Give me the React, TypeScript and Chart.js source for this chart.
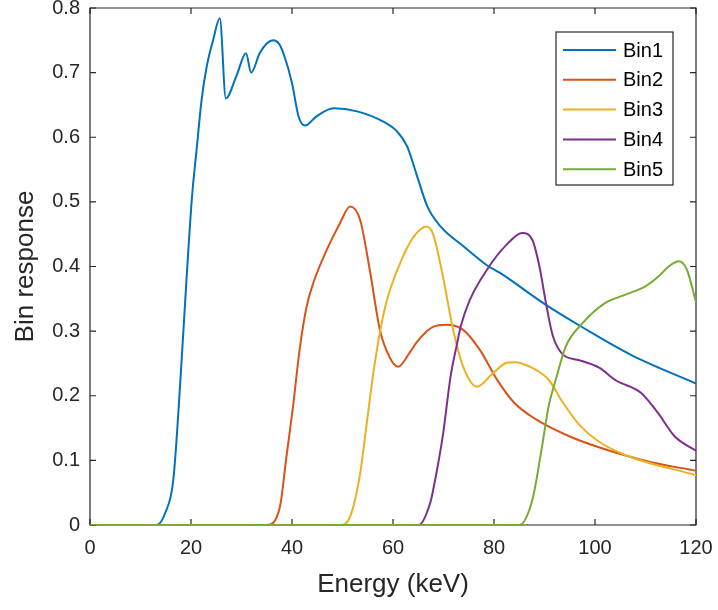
import React, { useEffect, useRef } from 'react';
import { Chart, registerables } from 'chart.js';

Chart.register(...registerables);

const seriesNames = ['Bin1', 'Bin2', 'Bin3', 'Bin4', 'Bin5'];
const seriesColors = ['#0072BD', '#D95319', '#EDB120', '#7E2F8E', '#77AC30'];
const xTickValues = [0, 20, 40, 60, 80, 100, 120];
const yTickValues = [0, 0.1, 0.2, 0.3, 0.4, 0.5, 0.6, 0.7, 0.8];

const energy1 = [0, 13.2, 14.9, 16.5, 17.9, 19.1, 20.2, 21.1, 22.1, 23.1, 24.4, 25.7, 26.9, 29.0, 30.9, 31.9, 33.6, 35.0, 36.3, 37.4, 38.3, 40.0, 41.3, 42.6, 44.8, 48.2, 52.9, 58.1, 60.8, 62.8, 64.8, 66.8, 69.4, 74.0, 78.6, 81.2, 90.2, 97.5, 107.2, 120];
const bin1 = [0, 0, 0.019, 0.07, 0.224, 0.379, 0.508, 0.58, 0.658, 0.709, 0.751, 0.784, 0.66, 0.695, 0.73, 0.7, 0.73, 0.745, 0.75, 0.745, 0.73, 0.684, 0.632, 0.618, 0.632, 0.645, 0.64, 0.624, 0.609, 0.586, 0.539, 0.493, 0.462, 0.431, 0.402, 0.39, 0.341, 0.306, 0.263, 0.219];

const energy2 = [0, 35.0, 37.6, 38.9, 40.2, 41.5, 42.9, 44.2, 46.9, 49.5, 51.5, 53.5, 55.5, 57.4, 59.3, 61.0, 63.4, 64.9, 68.0, 70.6, 73.9, 77.2, 80.6, 83.9, 88.4, 95.0, 100.9, 110.7, 120];
const bin2 = [0, 0, 0.028, 0.106, 0.183, 0.271, 0.338, 0.374, 0.426, 0.467, 0.493, 0.472, 0.39, 0.302, 0.26, 0.245, 0.268, 0.285, 0.307, 0.31, 0.302, 0.271, 0.225, 0.19, 0.163, 0.137, 0.12, 0.098, 0.084];

const energy3 = [0, 49.5, 51.5, 53.5, 54.8, 56.1, 57.5, 58.8, 61.4, 64.0, 66.6, 67.9, 69.9, 71.9, 73.9, 76.6, 79.8, 82.5, 84.0, 87.6, 90.9, 93.6, 96.9, 100.6, 106.1, 120];
const bin3 = [0, 0, 0.013, 0.08, 0.157, 0.235, 0.302, 0.348, 0.405, 0.445, 0.462, 0.451, 0.384, 0.302, 0.245, 0.214, 0.235, 0.251, 0.252, 0.243, 0.224, 0.19, 0.155, 0.13, 0.108, 0.077];

const energy4 = [0, 65.1, 67.4, 68.1, 69.9, 71.4, 72.7, 73.4, 75.2, 78.6, 82.4, 85.6, 87.6, 89.0, 90.3, 91.6, 93.6, 96.9, 100.9, 104.1, 109.2, 112.5, 115.8, 120];
const bin4 = [0, 0, 0.035, 0.06, 0.14, 0.23, 0.281, 0.307, 0.348, 0.395, 0.433, 0.452, 0.441, 0.4, 0.343, 0.294, 0.264, 0.255, 0.243, 0.224, 0.204, 0.173, 0.137, 0.115];

const energy5 = [0, 85.0, 87.6, 89.5, 90.8, 92.2, 94.2, 97.5, 101.9, 105.9, 109.9, 112.5, 114.6, 116.6, 118.2, 120];
const bin5 = [0, 0, 0.039, 0.121, 0.183, 0.224, 0.276, 0.312, 0.343, 0.356, 0.369, 0.384, 0.4, 0.408, 0.395, 0.345];

const energies = [energy1, energy2, energy3, energy4, energy5];
const bins = [bin1, bin2, bin3, bin4, bin5];

const FONT = '"Liberation Sans", Arial, Helvetica, sans-serif';
const AXIS_COLOR = '#262626';

const boxPlugin = {
  id: 'matlabBox',
  beforeDatasetsDraw(chart: any) {
    const { ctx, chartArea, scales } = chart;
    const { left, right, top, bottom } = chartArea;
    const xs = scales.x;
    const ys = scales.y;
    const tick = 6;
    ctx.save();
    ctx.strokeStyle = AXIS_COLOR;
    ctx.lineWidth = 1.2;
    ctx.beginPath();
    ctx.rect(left, top, right - left, bottom - top);
    ctx.stroke();
    ctx.beginPath();
    xTickValues.forEach((v) => {
      const px = xs.getPixelForValue(v);
      ctx.moveTo(px, bottom);
      ctx.lineTo(px, bottom - tick);
      ctx.moveTo(px, top);
      ctx.lineTo(px, top + tick);
    });
    yTickValues.forEach((v) => {
      const py = ys.getPixelForValue(v);
      ctx.moveTo(left, py);
      ctx.lineTo(left + tick, py);
      ctx.moveTo(right, py);
      ctx.lineTo(right - tick, py);
    });
    ctx.stroke();
    ctx.restore();
  },
};

const legendPlugin = {
  id: 'insideLegend',
  afterDatasetsDraw(chart: any) {
    const { ctx, chartArea } = chart;
    const boxRight = chartArea.right - 23;
    const boxTop = chartArea.top + 24;
    const boxW = 117;
    const rowH = 29.8;
    const boxH = 153;
    const boxLeft = boxRight - boxW;
    ctx.save();
    ctx.fillStyle = '#ffffff';
    ctx.fillRect(boxLeft, boxTop, boxW, boxH);
    ctx.strokeStyle = '#262626';
    ctx.lineWidth = 1.2;
    ctx.strokeRect(boxLeft, boxTop, boxW, boxH);
    ctx.font = `20px ${FONT}`;
    ctx.textBaseline = 'middle';
    ctx.textAlign = 'left';
    chart.data.datasets.forEach((ds: any, i: number) => {
      const cy = boxTop + 18 + i * rowH;
      ctx.strokeStyle = ds.borderColor;
      ctx.lineWidth = 2;
      ctx.beginPath();
      ctx.moveTo(boxLeft + 7, cy);
      ctx.lineTo(boxLeft + 60, cy);
      ctx.stroke();
      ctx.fillStyle = '#000000';
      ctx.fillText(ds.label, boxLeft + 67, cy + 1);
    });
    ctx.restore();
  },
};

function zeroPadding(scale: any) {
  scale.paddingTop = 0;
  scale.paddingBottom = 0;
  scale.paddingLeft = 0;
  scale.paddingRight = 0;
}

export default function App() {
  const canvasRef = useRef<HTMLCanvasElement | null>(null);

  useEffect(() => {
    document.body.style.margin = '0';
    const canvas = canvasRef.current;
    if (!canvas) return;
    const datasets = seriesNames.map((name, i) => ({
      label: name,
      data: energies[i].map((e, j) => ({ x: e, y: bins[i][j] })),
      borderColor: seriesColors[i],
      backgroundColor: seriesColors[i],
      borderWidth: 2,
      pointRadius: 0,
      fill: false,
      cubicInterpolationMode: 'monotone' as const,
      order: seriesNames.length - i,
    }));
    const chart = new Chart(canvas, {
      type: 'line',
      data: { datasets },
      options: {
        animation: false,
        responsive: false,
        maintainAspectRatio: false,
        layout: { padding: { top: 8, right: 22, left: 0, bottom: 0 } },
        plugins: {
          legend: { display: false },
          tooltip: { enabled: false },
        },
        scales: {
          x: {
            type: 'linear',
            min: 0,
            max: 120,
            afterBuildTicks: (scale: any) => {
              scale.ticks = xTickValues.map((v) => ({ value: v }));
            },
            afterFit: (scale: any) => {
              scale.height = 85;
              zeroPadding(scale);
            },
            grid: { display: false, drawTicks: false },
            border: { display: false },
            ticks: {
              color: AXIS_COLOR,
              font: { family: FONT, size: 20 },
              padding: 11,
              maxRotation: 0,
            },
            title: {
              display: true,
              text: 'Energy (keV)',
              color: AXIS_COLOR,
              font: { family: FONT, size: 26 },
              padding: { top: 0, bottom: 10 },
            },
          },
          y: {
            type: 'linear',
            min: 0,
            max: 0.8,
            afterBuildTicks: (scale: any) => {
              scale.ticks = yTickValues.map((v) => ({ value: v }));
            },
            afterFit: (scale: any) => {
              scale.width = 90;
              zeroPadding(scale);
            },
            grid: { display: false, drawTicks: false },
            border: { display: false },
            ticks: {
              color: AXIS_COLOR,
              font: { family: FONT, size: 20 },
              padding: 10,
              callback: (v: any) => String(Math.round(Number(v) * 10) / 10),
            },
            title: {
              display: true,
              text: 'Bin response',
              color: AXIS_COLOR,
              font: { family: FONT, size: 26 },
              padding: { top: 10, bottom: 0 },
            },
          },
        },
      },
      plugins: [boxPlugin, legendPlugin],
    });
    return () => chart.destroy();
  }, []);

  return (
    <div style={{ width: 718, height: 610 }}>
      <canvas ref={canvasRef} width={718} height={610} />
    </div>
  );
}
